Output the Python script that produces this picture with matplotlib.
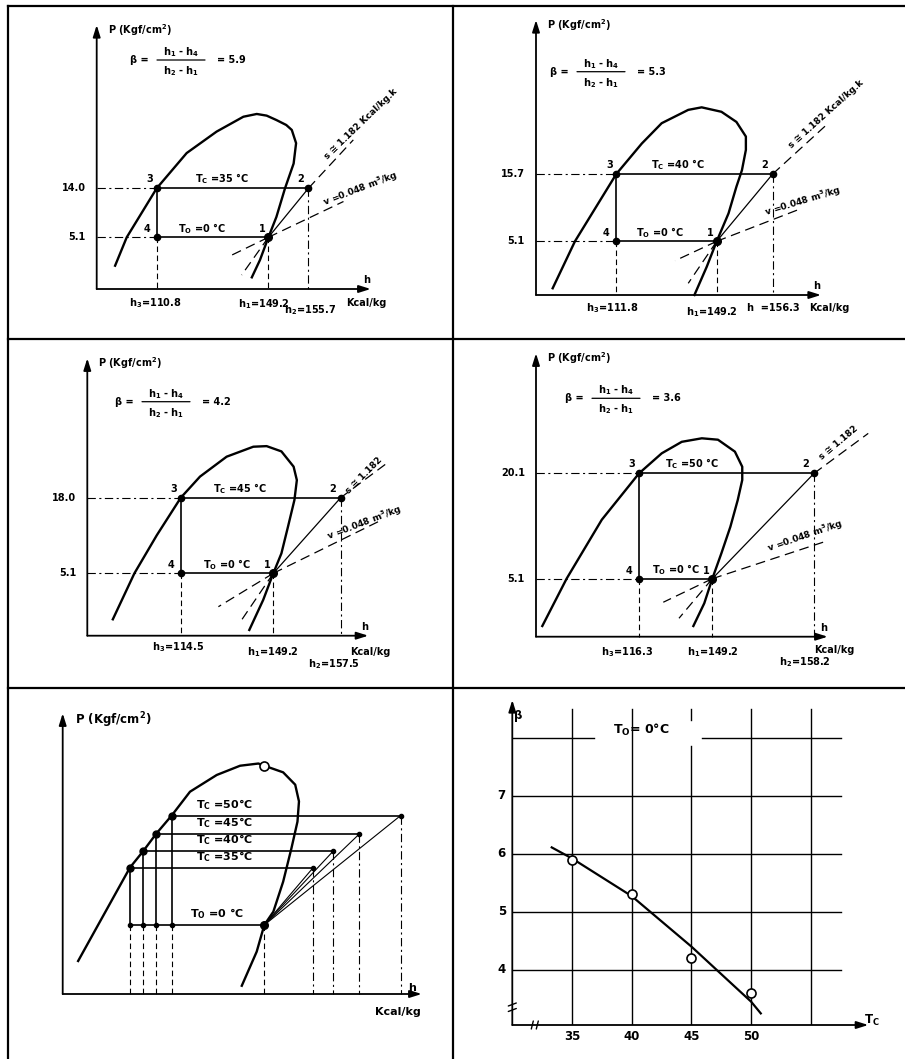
import numpy as np
import matplotlib.pyplot as plt

plt.rcParams['font.family'] = ['DejaVu Sans']
plt.rcParams['font.weight'] = 'bold'
plt.rcParams['mathtext.fontset'] = 'custom'
plt.rcParams['mathtext.rm'] = 'DejaVu Sans:bold'
plt.rcParams['mathtext.it'] = 'DejaVu Sans:bold'
plt.rcParams['mathtext.bf'] = 'DejaVu Sans:bold'
plt.rcParams['mathtext.default'] = 'rm'
plt.rcParams['lines.scale_dashes'] = False
plt.rcParams['axes.prop_cycle'] = plt.cycler(color=['k'])

# ---- data ----
tc = [35, 40, 45, 50]                    # condensing temperature, C
t0 = 0                                   # evaporating temperature, C
p0 = 5.1                                 # kgf/cm2
pc = [14.0, 15.7, 18.0, 20.1]            # kgf/cm2
h1 = 149.2                               # kcal/kg
h3 = [110.8, 111.8, 114.5, 116.3]
h2 = [155.7, 156.3, 157.5, 158.2]
beta = [5.9, 5.3, 4.2, 3.6]
s_value = 1.182
v_value = 0.048

# saturation curve of each cycle diagram (h kcal/kg, P kgf/cm2), estimated
dome_h = [
    [96.5, 100.5, 110.8, 121.1, 131.4, 140.6, 145.2, 148.6, 150.5, 152.1, 153.0, 153.7, 153.3, 151.9, 150.5, 149.2, 146.3, 143.5],
    [88.1, 96.4, 111.8, 121.3, 128.7, 138.6, 143.6, 149.8, 151.7, 152.9, 152.9, 152.4, 151.7, 150.7, 149.2, 145.5, 140.9],
    [89.0, 97.1, 105.5, 114.5, 121.7, 131.7, 141.7, 146.7, 150.2, 151.7, 152.1, 151.8, 151.0, 150.2, 149.2, 145.4, 140.2],
    [72.9, 83.8, 99.6, 116.3, 126.5, 135.5, 144.5, 149.7, 151.2, 151.85, 151.85, 151.45, 150.8, 150.0, 149.2, 145.6, 140.7],
]
dome_p = [
    [2.3, 5.1, 14.0, 20.4, 24.3, 27.0, 27.5, 27.2, 26.4, 25.5, 24.6, 22.2, 18.5, 14.0, 8.8, 5.1, 2.86, 1.15],
    [0.64, 5.1, 15.7, 20.5, 23.7, 25.8, 26.2, 25.5, 23.9, 21.6, 19.5, 16.3, 13.7, 9.5, 5.1, 2.69, 0.0],
    [1.34, 5.1, 11.6, 18.0, 21.6, 25.0, 26.7, 26.8, 25.9, 23.3, 21.0, 17.6, 13.0, 8.5, 5.1, 2.92, 0.47],
    [0.94, 5.1, 13.5, 20.1, 22.96, 24.6, 25.1, 24.9, 23.2, 21.05, 19.16, 16.3, 12.5, 8.7, 5.1, 2.94, 0.94],
]
# ends of the constant s and constant v lines
s_end_h = [163.0, 163.35, 163.2, 163.0]
s_end_p = [22.8, 23.7, 23.9, 25.8]
v_end_h = [161.4, 160.0, 162.55, 159.2]
v_end_p = [11.6, 10.3, 14.2, 10.4]
s_low_h = [140.0, 138.6, 137.3, 134.25]
s_low_p = [1.38, 1.11, 1.28, 1.62]
v_low_h = [135.5, 133.7, 128.6, 127.2]
v_low_p = [3.19, 3.26, 2.37, 3.03]

# summary diagram
dome5_h = [106.9, 108.4, 110.8, 111.8, 114.5, 116.3, 122.8, 132.3, 140.6, 147.1, 149.2, 151.7,
           153.3, 153.8, 153.6, 152.8, 151.7, 150.4, 149.2, 146.5, 141.2]
dome5_p = [2.44, 5.1, 14.0, 15.7, 18.0, 20.1, 22.8, 24.7, 25.75, 26.0, 25.75, 25.0,
           23.6, 21.7, 19.4, 16.07, 11.8, 7.16, 5.1, 3.13, 0.61]
crit_h, crit_p = 149.2, 25.75

# beta versus Tc
fit_tc = [33.3, 35, 40, 45, 50, 50.8]
fit_beta = [6.11, 5.92, 5.27, 4.40, 3.45, 3.25]
beta_ticks = [4, 5, 6, 7]
tc_grid = [35, 40, 45, 50, 55]
beta_grid = [4, 5, 6, 7, 8]

# ---- layout (pixels of the sheet) ----
FIG_W, FIG_H = 905, 1059
FS = 7
DASH = (0, (4, 2.5))
DASHDOT = (0, (6, 2.5, 1.5, 2.5))
LDASH = (0, (7, 4))

cyc_origin = [(96.7, 289), (536, 295), (87.3, 635.7), (536, 636.7)]
cyc_size = [(274, 264), (285, 275), (281, 277.4), (291.7, 283.4)]
cyc_xpos = [(60, 171.7, 211.7), (80.3, 180.7, 236.7), (93.5, 186, 253.4), (103, 176.3, 278)]
cyc_ypos = [(51.7, 100.7), (53.7, 121), (62.4, 138), (58, 163.3)]
formula_at = [(33.3, 229), (14, 223.3), (27.7, 234), (29, 238.4)]
tc_dx = [38, 35, 32, 26]
t0_dx = [21, 20, 22, 13]
hlab_off = [
    [(-1, -14), (-4, -15), (2, -21), (-4, -14)],
    [(-4, -13), (-5, -17), (1, -13), (8, -13)],
    [(-3, -11), (0, -16), (-7, -28), (2, -16)],
    [(-12, -15), (1, -15), (-9, -25), (7, -13)],
]
s_lab = [(52, 64, 44), (53, 60, 42), (23, 22, 45), (25, 31, 40)]
v_lab = [(52, -1, 21), (30, -28, 17), (24, -25, 21), (-9, -63, 19)]

fig = plt.figure(figsize=(FIG_W / 100, FIG_H / 100), dpi=100)

frame = fig.add_axes([0, 0, 1, 1])
frame.set_xlim(0, FIG_W)
frame.set_ylim(FIG_H, 0)
frame.axis('off')
for x in (8, 452.5):
    frame.plot([x, x], [5.5, FIG_H], lw=1.6)
for y in (5.5, 338.5, 687.5):
    frame.plot([8, FIG_W], [y, y], lw=1.6)


def add_panel(ox, oy, w, h):
    return fig.add_axes([ox / FIG_W, (FIG_H - oy) / FIG_H, w / FIG_W, h / FIG_H])


def stretch(v, a, b):
    v = np.asarray(v, dtype=float)
    out = np.interp(v, a, b)
    lo = b[0] + (v - a[0]) * (b[1] - b[0]) / (a[1] - a[0])
    hi = b[-1] + (v - a[-1]) * (b[-1] - b[-2]) / (a[-1] - a[-2])
    return np.where(v < a[0], lo, np.where(v > a[-1], hi, out))


def scale_funcs(vals, pos):
    a = np.asarray(vals, dtype=float)
    b = np.asarray(pos, dtype=float)
    return (lambda v: stretch(v, a, b)), (lambda p: stretch(p, b, a))


def setup(ax, fx, fy, w, h):
    ax.set_xscale('function', functions=fx)
    ax.set_yscale('function', functions=fy)
    x0, y0 = float(fx[1](0)), float(fy[1](0))
    ax.set_xlim(x0, float(fx[1](w)))
    ax.set_ylim(y0, float(fy[1](h)))
    ax.axis('off')
    return x0, y0


def axis_arrows(ax):
    for tip in [(1, 0), (0, 1)]:
        ax.annotate('', xy=tip, xytext=(0, 0), xycoords='axes fraction',
                    arrowprops=dict(arrowstyle='-|>,head_length=0.7,head_width=0.22',
                                    color='k', lw=1.3, shrinkA=0, shrinkB=0))


def stroke(ax, p, q, lw=1.0):
    ax.annotate('', xy=q, xytext=p, xycoords='axes pixels',
                arrowprops=dict(arrowstyle='-', lw=lw, color='k', shrinkA=0, shrinkB=0))


def txt(ax, s, xy, off=(0, 0), coords='data', **kw):
    kw.setdefault('ha', 'center')
    kw.setdefault('va', 'center')
    kw.setdefault('fontsize', FS)
    return ax.annotate(s, xy=xy, xycoords=coords, xytext=off,
                       textcoords='offset pixels', annotation_clip=False, **kw)


def line(ax, xs, ys, **kw):
    ax.plot(xs, ys, clip_on=False, **kw)


# ---- the four cycles ----
for i in range(4):
    ox, oy = cyc_origin[i]
    w, hh = cyc_size[i]
    ax = add_panel(ox, oy, w, hh)
    fx = scale_funcs([h3[i], h1, h2[i]], cyc_xpos[i])
    fy = scale_funcs([0.0, p0, pc[i]], [0.0, cyc_ypos[i][0], cyc_ypos[i][1]])
    x0, y0 = setup(ax, fx, fy, w, hh)
    axis_arrows(ax)

    line(ax, dome_h[i], dome_p[i], lw=1.7, solid_joinstyle='round')
    line(ax, [h3[i], h2[i]], [pc[i], pc[i]], lw=1.2)
    line(ax, [h3[i], h1], [p0, p0], lw=1.2)
    line(ax, [h3[i], h3[i]], [pc[i], p0], lw=1.2)
    line(ax, [h1, h2[i]], [p0, pc[i]], lw=0.9)

    line(ax, [x0, h3[i]], [pc[i], pc[i]], lw=0.8, ls=DASHDOT)
    line(ax, [x0, h3[i]], [p0, p0], lw=0.8, ls=DASHDOT)
    line(ax, [h3[i], h3[i]], [p0, y0], lw=0.8, ls=DASH)
    line(ax, [h1, h1], [p0, y0], lw=0.8, ls=DASH)
    line(ax, [h2[i], h2[i]], [pc[i], y0], lw=0.8, ls=DASHDOT)

    line(ax, [h2[i], s_end_h[i]], [pc[i], s_end_p[i]], lw=0.9, ls=LDASH)
    line(ax, [h1, v_end_h[i]], [p0, v_end_p[i]], lw=0.9, ls=LDASH)
    line(ax, [h1, s_low_h[i]], [p0, s_low_p[i]], lw=0.9, ls=LDASH)
    line(ax, [h1, v_low_h[i]], [p0, v_low_p[i]], lw=0.9, ls=LDASH)

    line(ax, [h2[i], h3[i], h3[i]], [pc[i], pc[i], p0], ls='none', marker='o', ms=4.5)
    line(ax, [h1], [p0], ls='none', marker='o', ms=5.5)

    txt(ax, '3', (h3[i], pc[i]), (-7, 9))
    txt(ax, '2', (h2[i], pc[i]), (-8, 9))
    txt(ax, '4', (h3[i], p0), (-10, 8))
    txt(ax, '1', (h1, p0), (-6, 8))
    txt(ax, r'T$_C$ =' + f'{tc[i]} °C', (h3[i], pc[i]), (tc_dx[i], 9.5), ha='left')
    txt(ax, r'T$_O$ =' + f'{t0} °C', (h3[i], p0), (t0_dx[i], 9), ha='left')
    txt(ax, f'{pc[i]:.1f}', (x0, pc[i]), (-11, 0), ha='right')
    txt(ax, f'{p0}', (x0, p0), (-11, 0), ha='right')

    off = hlab_off[i]
    txt(ax, r'h$_3$=' + f'{h3[i]}', (h3[i], y0), off[0])
    txt(ax, r'h$_1$=' + f'{h1}', (h1, y0), off[1])
    h2_text = f'h  ={h2[i]}' if i == 1 else r'h$_2$=' + f'{h2[i]}'
    txt(ax, h2_text, (h2[i], y0), off[2])
    txt(ax, 'Kcal/kg', (1, 0), off[3], coords='axes fraction')
    txt(ax, 'h', (1, 0), (-4, 9), coords='axes fraction')
    txt(ax, r'P (Kgf/cm$^2$)', (0, 1), (11, -5), coords='axes fraction', ha='left')

    # coefficient of performance, written as a fraction
    fxp, fyp = formula_at[i]
    txt(ax, 'β =', (fxp, fyp), coords='axes pixels', ha='left')
    txt(ax, r'h$_1$ - h$_4$', (fxp + 51, fyp + 8), coords='axes pixels')
    txt(ax, r'h$_2$ - h$_1$', (fxp + 51, fyp - 11), coords='axes pixels')
    stroke(ax, (fxp + 27, fyp), (fxp + 75, fyp), lw=0.9)
    txt(ax, f'= {beta[i]}', (fxp + 87, fyp), coords='axes pixels', ha='left')

    s_text = f's ≅ {s_value} Kcal/kg.k' if i < 2 else f's ≅ {s_value}'
    sx, sy, sa = s_lab[i]
    txt(ax, s_text, (h2[i], pc[i]), (sx, sy), rotation=sa, rotation_mode='anchor', fontsize=6.5)
    vx, vy, va_ = v_lab[i]
    txt(ax, r'v =' + f'{v_value}' + r' m$^3$/kg', (h2[i], pc[i]), (vx, vy),
        rotation=va_, rotation_mode='anchor', fontsize=6.5)

# ---- all four cycles together ----
ax5 = add_panel(62.7, 994, 359, 280.7)
fx = scale_funcs(h3 + [h1] + h2, [67.3, 80.6, 93.3, 109, 201.6, 250.6, 270.6, 296.6, 338])
fy = scale_funcs([0.0, p0] + pc, [0, 69, 126.5, 143, 160, 178.5])
x0, y0 = setup(ax5, fx, fy, 359, 280.7)
axis_arrows(ax5)
line(ax5, dome5_h, dome5_p, lw=1.7, solid_joinstyle='round')
line(ax5, [h3[0], h1], [p0, p0], lw=1.2)
line(ax5, [h1, h1], [p0, y0], lw=0.8, ls=DASH)
for i in range(4):
    line(ax5, [h3[i], h2[i]], [pc[i], pc[i]], lw=1.2)
    line(ax5, [h3[i], h3[i]], [pc[i], p0], lw=1.2)
    line(ax5, [h1, h2[i]], [p0, pc[i]], lw=0.8)
    line(ax5, [h3[i], h3[i]], [p0, y0], lw=0.8, ls=DASH)
    line(ax5, [h2[i], h2[i]], [pc[i], y0], lw=0.8, ls=DASHDOT)
    txt(ax5, r'T$_C$ =' + f'{tc[i]}°C', (133.3, pc[i]), (0, 11),
        coords=('axes pixels', 'data'), ha='left', fontsize=8)
line(ax5, h3, pc, ls='none', marker='o', ms=5)
line(ax5, h3, [p0] * 4, ls='none', marker='o', ms=3)
line(ax5, h2, pc, ls='none', marker='o', ms=3)
line(ax5, [h1], [p0], ls='none', marker='o', ms=5.5)
line(ax5, [crit_h], [crit_p], ls='none', marker='o', ms=6.5, mfc='white', mec='k', mew=1.2)
txt(ax5, r'T$_O$ =' + f'{t0} °C', (127.3, p0), (0, 11), coords=('axes pixels', 'data'),
    ha='left', fontsize=8)
txt(ax5, 'h', (1, 0), (-10, 6), coords='axes fraction', fontsize=8)
txt(ax5, 'Kcal/kg', (1, 0), (-24, -18), coords='axes fraction', fontsize=8)
txt(ax5, r'P (Kgf/cm$^2$)', (0, 1), (12, -7), coords='axes fraction', ha='left', fontsize=8.5)

# ---- beta versus Tc ----
ax6 = add_panel(512.3, 1025, 356, 325)
ax6.set_xlim(30, 59.8)
ax6.set_ylim(3.05, 8.65)
ax6.axis('off')
axis_arrows(ax6)
for b in beta_grid[:-1]:
    ax6.plot([30, 57.5], [b, b], lw=1.0)
ax6.plot([30, 36.8], [beta_grid[-1]] * 2, lw=1.0)
ax6.plot([45.9, 57.5], [beta_grid[-1]] * 2, lw=1.0)
for t in tc_grid:
    if t == 45:
        ax6.plot([t, t], [3.05, 7.85], lw=1.0)
        ax6.plot([t, t], [8.31, 8.5], lw=1.0)
    else:
        ax6.plot([t, t], [3.05, 8.5], lw=1.0)
ax6.plot(fit_tc, fit_beta, lw=1.6)
ax6.plot(tc, beta, ls='none', marker='o', ms=6.5, mfc='white', mec='k', mew=1.2, zorder=3)
for t in tc:
    txt(ax6, str(t), (t, 3.05), (0, -12), fontsize=8.5)
for b in beta_ticks:
    txt(ax6, str(b), (30, b), (-10.6, 0), fontsize=8.5)
txt(ax6, 'β', (0, 1), (6, -15), coords='axes fraction', fontsize=8.5)
txt(ax6, r'T$_C$', (1, 0), (4, 5), coords='axes fraction', fontsize=8.5)
txt(ax6, r'T$_O$= ' + f'{t0}°C', (128.7, 295), coords='axes pixels', fontsize=9)
for d in (15, 20.5):
    stroke(ax6, (-4, d - 1.5), (4, d + 1.5))
for d in (20, 25):
    stroke(ax6, (d - 1, -4), (d + 1, 4))

fig.savefig('out.png', dpi=100)
